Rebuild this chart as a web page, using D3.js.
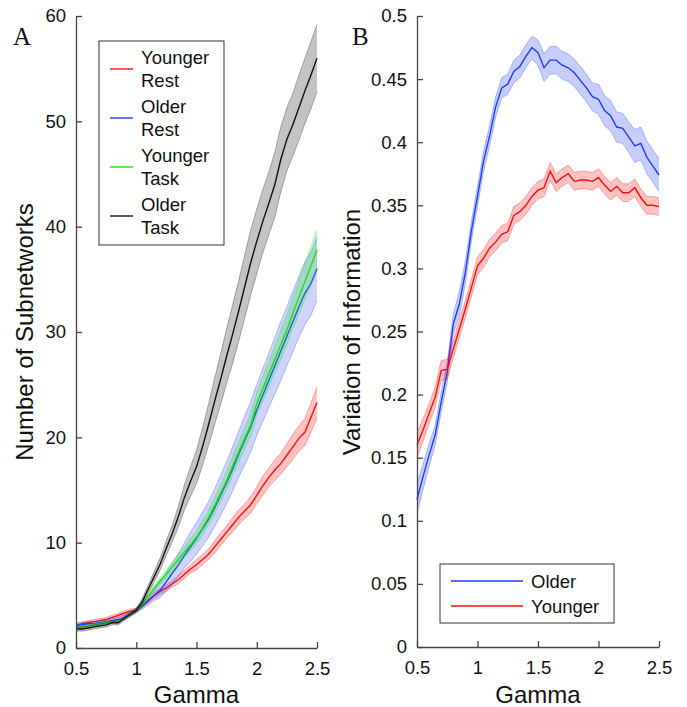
<!DOCTYPE html>
<html>
<head>
<meta charset="utf-8">
<script src="https://cdn.jsdelivr.net/npm/d3@7"></script>
<style>
	body { margin: 0; background: #fff; }
	svg text { font-family: 'Liberation Sans', Arial, sans-serif; fill: #111; }
	.axis path, .axis line { stroke: #444; stroke-width: 1.3; }
	.axis text { font-size: 18.5px; font-family: 'Liberation Sans', Arial, sans-serif; fill: #111; }
	.axis-title { font-size: 24px; }
	.legend-text { font-size: 18.5px; }
	.panel-letter { font-family: 'Liberation Serif', 'Times New Roman', serif; font-size: 25px; }
</style>
</head>
<body>
<svg id="fig" width="687" height="707"></svg>
<script>

function whenDocumentLoaded(action) {
	if (document.readyState === "loading") {
		document.addEventListener("DOMContentLoaded", action);
	} else {
		action();
	}
}

// gamma values (x) shared by every series
const GAMMA = [0.5, 0.55, 0.6, 0.65, 0.7, 0.75, 0.8, 0.85, 0.9, 0.95,
	1.0, 1.05, 1.1, 1.15, 1.2, 1.25, 1.3, 1.35, 1.4, 1.45,
	1.5, 1.55, 1.6, 1.65, 1.7, 1.75, 1.8, 1.85, 1.9, 1.95,
	2.0, 2.05, 2.1, 2.15, 2.2, 2.25, 2.3, 2.35, 2.4, 2.45, 2.5];

// Panel A: number of subnetworks (mean and half width of shaded band)
const YOUNGER_REST = [2.1, 2.3, 2.4, 2.5, 2.6, 2.7, 2.9, 3.1, 3.3, 3.5,
	3.6, 4.0, 4.5, 5.0, 5.4, 5.7, 6.1, 6.5, 7.0, 7.5,
	7.9, 8.4, 8.9, 9.6, 10.3, 11.0, 11.7, 12.4, 13.0, 13.6,
	14.5, 15.4, 16.2, 16.9, 17.5, 18.3, 19.1, 19.9, 20.5, 21.9, 23.3];
const YOUNGER_REST_ERR = [0.2, 0.2, 0.2, 0.2, 0.2, 0.2, 0.2, 0.2, 0.2, 0.2,
	0.2, 0.2, 0.2, 0.3, 0.3, 0.3, 0.3, 0.4, 0.4, 0.4,
	0.5, 0.5, 0.5, 0.6, 0.6, 0.6, 0.7, 0.7, 0.7, 0.8,
	0.8, 0.9, 0.9, 1.0, 1.0, 1.1, 1.2, 1.2, 1.3, 1.4, 1.5];

const OLDER_REST = [2.2, 2.2, 2.3, 2.3, 2.4, 2.5, 2.6, 2.7, 2.9, 3.2,
	3.5, 4.0, 4.5, 5.0, 5.5, 6.3, 7.1, 7.9, 8.8, 9.6,
	10.4, 11.3, 12.2, 13.3, 14.5, 15.7, 17.0, 18.4, 19.7, 21.0,
	22.6, 24.0, 25.4, 26.8, 28.2, 29.6, 31.0, 32.4, 33.7, 34.6, 36.0];
const OLDER_REST_ERR = [0.2, 0.2, 0.2, 0.2, 0.2, 0.2, 0.2, 0.2, 0.2, 0.2,
	0.2, 0.3, 0.4, 0.5, 0.7, 0.9, 1.0, 1.1, 1.2, 1.4,
	1.5, 1.6, 1.7, 1.8, 1.9, 2.0, 2.1, 2.2, 2.3, 2.4,
	2.4, 2.5, 2.6, 2.7, 2.8, 2.8, 2.9, 2.9, 3.0, 3.0, 3.0];

const YOUNGER_TASK = [1.9, 2.0, 2.1, 2.2, 2.3, 2.4, 2.5, 2.5, 2.8, 3.2,
	3.6, 4.2, 4.9, 5.7, 6.4, 7.0, 7.7, 8.4, 9.1, 9.8,
	10.5, 11.4, 12.4, 13.5, 14.7, 15.9, 17.3, 18.6, 19.9, 21.2,
	23.2, 24.6, 26.0, 27.4, 28.8, 30.2, 31.8, 33.3, 34.8, 36.3, 37.8];
const YOUNGER_TASK_ERR = [0.1, 0.1, 0.1, 0.1, 0.1, 0.1, 0.1, 0.1, 0.1, 0.1,
	0.1, 0.2, 0.2, 0.3, 0.3, 0.4, 0.4, 0.5, 0.5, 0.6,
	0.6, 0.7, 0.7, 0.8, 0.8, 0.9, 0.9, 1.0, 1.0, 1.1,
	1.1, 1.2, 1.2, 1.3, 1.4, 1.4, 1.5, 1.6, 1.7, 1.8, 1.9];

const OLDER_TASK = [1.8, 1.8, 1.9, 2.0, 2.1, 2.2, 2.4, 2.4, 2.8, 3.2,
	3.6, 4.4, 5.6, 6.8, 8.0, 9.5, 10.9, 12.5, 14.3, 15.8,
	17.2, 19.1, 21.2, 23.4, 25.5, 27.7, 29.8, 32.0, 34.3, 36.6,
	38.6, 40.5, 42.2, 44.0, 46.4, 48.3, 49.7, 51.3, 52.9, 54.4, 56.0];
const OLDER_TASK_ERR = [0.2, 0.2, 0.2, 0.2, 0.2, 0.2, 0.2, 0.2, 0.2, 0.2,
	0.2, 0.3, 0.4, 0.5, 0.6, 0.7, 0.8, 1.0, 1.2, 1.4,
	1.6, 1.8, 2.0, 2.2, 2.4, 2.6, 2.8, 2.9, 3.0, 3.1,
	3.1, 3.0, 3.0, 3.1, 3.1, 3.0, 3.0, 3.1, 3.1, 3.2, 3.2];

// Panel B: variation of information
const VI_OLDER = [0.117, 0.135, 0.152, 0.168, 0.194, 0.218, 0.256, 0.272, 0.297, 0.330,
	0.357, 0.385, 0.405, 0.428, 0.443, 0.446, 0.456, 0.460, 0.468, 0.475,
	0.471, 0.459, 0.465, 0.465, 0.461, 0.459, 0.455, 0.449, 0.443, 0.436,
	0.434, 0.425, 0.421, 0.412, 0.411, 0.404, 0.397, 0.399, 0.388, 0.381, 0.374];
const VI_OLDER_ERR = [0.012, 0.010, 0.009, 0.008, 0.008, 0.008, 0.008, 0.010, 0.009, 0.008,
	0.008, 0.008, 0.008, 0.008, 0.008, 0.008, 0.009, 0.009, 0.009, 0.009,
	0.010, 0.011, 0.011, 0.011, 0.011, 0.011, 0.011, 0.011, 0.011, 0.011,
	0.012, 0.012, 0.012, 0.012, 0.012, 0.012, 0.013, 0.013, 0.013, 0.013, 0.013];

const VI_YOUNGER = [0.160, 0.172, 0.185, 0.198, 0.219, 0.220, 0.236, 0.252, 0.268, 0.285,
	0.302, 0.308, 0.316, 0.321, 0.327, 0.329, 0.342, 0.345, 0.350, 0.357,
	0.362, 0.364, 0.377, 0.368, 0.372, 0.375, 0.369, 0.370, 0.370, 0.369,
	0.372, 0.366, 0.361, 0.365, 0.360, 0.360, 0.364, 0.356, 0.350, 0.350, 0.349];
const VI_YOUNGER_ERR = [0.010, 0.009, 0.008, 0.008, 0.008, 0.008, 0.007, 0.007, 0.007, 0.007,
	0.007, 0.007, 0.007, 0.007, 0.007, 0.007, 0.007, 0.007, 0.007, 0.007,
	0.007, 0.007, 0.007, 0.007, 0.007, 0.007, 0.007, 0.007, 0.007, 0.007,
	0.007, 0.007, 0.007, 0.007, 0.007, 0.007, 0.007, 0.007, 0.007, 0.007, 0.007];

const X_TICKS = [0.5, 1, 1.5, 2, 2.5];
const A_Y_TICKS = [0, 10, 20, 30, 40, 50, 60];
const B_Y_TICKS = [0, 0.05, 0.1, 0.15, 0.2, 0.25, 0.3, 0.35, 0.4, 0.45, 0.5];

const A_LEGEND = [['Younger', 'Rest'], ['Older', 'Rest'], ['Younger', 'Task'], ['Older', 'Task']];
const B_LEGEND = ['Older', 'Younger'];

const RED = '#ff0d0d';
const BLUE = '#1f3cff';
const GREEN = '#1ee01e';
const BLACK = '#111111';


class ShadedPanel {
	constructor(svg, box, y_domain, y_ticks) {
		this.g = svg.append('g');
		this.box = box;

		this.x = d3.scaleLinear()
			.domain([0.5, 2.5])
			.range([box.left, box.right]);

		this.y = d3.scaleLinear()
			.domain(y_domain)
			.range([box.bottom, box.top]);

		this.marks = this.g.append('g');

		// axes with ticks pointing inward, like matlab
		this.g.append('g')
			.classed('axis', true)
			.attr('transform', `translate(0,${box.bottom})`)
			.call(d3.axisBottom(this.x)
				.tickValues(X_TICKS)
				.tickFormat(d3.format('~g'))
				.tickSizeInner(-6)
				.tickSizeOuter(0)
				.tickPadding(14));

		this.g.append('g')
			.classed('axis', true)
			.attr('transform', `translate(${box.left},0)`)
			.call(d3.axisLeft(this.y)
				.tickValues(y_ticks)
				.tickFormat(d3.format('~g'))
				.tickSizeInner(-6)
				.tickSizeOuter(0)
				.tickPadding(10));

		this.g.selectAll('.axis .domain').attr('stroke', '#444');

		this.g.append('text')
			.classed('axis-title', true)
			.attr('x', (box.left + box.right) / 2)
			.attr('y', 703)
			.attr('text-anchor', 'middle')
			.text('Gamma');
	}

	addSeries(values, err, color, band_opacity) {
		const data = GAMMA.map((gm, i) => ({g: gm, v: values[i], e: err[i]}));

		const band = d3.area()
			.x(d => this.x(d.g))
			.y0(d => this.y(d.v - d.e))
			.y1(d => this.y(d.v + d.e));

		this.marks.append('path')
			.datum(data)
			.attr('d', band)
			.attr('fill', color)
			.attr('fill-opacity', band_opacity)
			.attr('stroke', 'none');

		// band edges
		[-1, 1].forEach(sign => {
			this.marks.append('path')
				.datum(data)
				.attr('d', d3.line().x(d => this.x(d.g)).y(d => this.y(d.v + sign * d.e)))
				.attr('fill', 'none')
				.attr('stroke', color)
				.attr('stroke-opacity', 0.3)
				.attr('stroke-width', 1);
		});

		this.marks.append('path')
			.datum(data)
			.attr('d', d3.line().x(d => this.x(d.g)).y(d => this.y(d.v)))
			.attr('fill', 'none')
			.attr('stroke', color)
			.attr('stroke-width', 1.4);
	}
}


whenDocumentLoaded(() => {
	const svg = d3.select('#fig');

	// ---- panel A
	const panelA = new ShadedPanel(svg, {left: 76, right: 317, top: 16, bottom: 648}, [0, 60], A_Y_TICKS);
	panelA.addSeries(YOUNGER_REST, YOUNGER_REST_ERR, RED, 0.25);
	panelA.addSeries(OLDER_REST, OLDER_REST_ERR, BLUE, 0.22);
	panelA.addSeries(YOUNGER_TASK, YOUNGER_TASK_ERR, GREEN, 0.25);
	panelA.addSeries(OLDER_TASK, OLDER_TASK_ERR, BLACK, 0.25);

	svg.append('text')
		.attr('transform', 'translate(33,332) rotate(-90)')
		.attr('text-anchor', 'middle')
		.classed('axis-title', true)
		.text('Number of Subnetworks');

	svg.append('text').classed('panel-letter', true).attr('x', 13).attr('y', 45).text('A');

	const legA = svg.append('g');
	legA.append('rect')
		.attr('x', 99).attr('y', 41)
		.attr('width', 125).attr('height', 204)
		.attr('fill', '#fff')
		.attr('stroke', '#333')
		.attr('stroke-width', 1);
	const colorsA = [RED, BLUE, GREEN, BLACK];
	legA.selectAll('g.entry')
		.data(A_LEGEND)
		.enter()
		.append('g')
			.classed('entry', true)
			.each(function(d, i) {
				const top = 64 + i * 49;
				const e = d3.select(this);
				e.append('line')
					.attr('x1', 110).attr('x2', 133)
					.attr('y1', top + 5).attr('y2', top + 5)
					.attr('stroke', colorsA[i])
					.attr('stroke-width', 1.4);
				d.forEach((txt, k) => {
					e.append('text')
						.classed('legend-text', true)
						.attr('x', 141)
						.attr('y', top + k * 22.5)
						.text(txt);
				});
			});

	// ---- panel B
	const panelB = new ShadedPanel(svg, {left: 417, right: 659, top: 16, bottom: 647}, [0, 0.5], B_Y_TICKS);
	panelB.addSeries(VI_OLDER, VI_OLDER_ERR, BLUE, 0.25);
	panelB.addSeries(VI_YOUNGER, VI_YOUNGER_ERR, RED, 0.25);

	svg.append('text')
		.attr('transform', 'translate(360,332) rotate(-90)')
		.attr('text-anchor', 'middle')
		.classed('axis-title', true)
		.text('Variation of Information');

	svg.append('text').classed('panel-letter', true).attr('x', 352).attr('y', 45).text('B');

	const legB = svg.append('g');
	legB.append('rect')
		.attr('x', 440).attr('y', 564)
		.attr('width', 174).attr('height', 59)
		.attr('fill', '#fff')
		.attr('stroke', '#333')
		.attr('stroke-width', 1);
	const colorsB = [BLUE, RED];
	B_LEGEND.forEach((name, i) => {
		const yy = 581 + i * 25;
		legB.append('line')
			.attr('x1', 451).attr('x2', 523)
			.attr('y1', yy).attr('y2', yy)
			.attr('stroke', colorsB[i])
			.attr('stroke-width', 1.4);
		legB.append('text')
			.classed('legend-text', true)
			.attr('x', 531)
			.attr('y', yy + 6.5)
			.text(name);
	});
});

</script>
</body>
</html>
